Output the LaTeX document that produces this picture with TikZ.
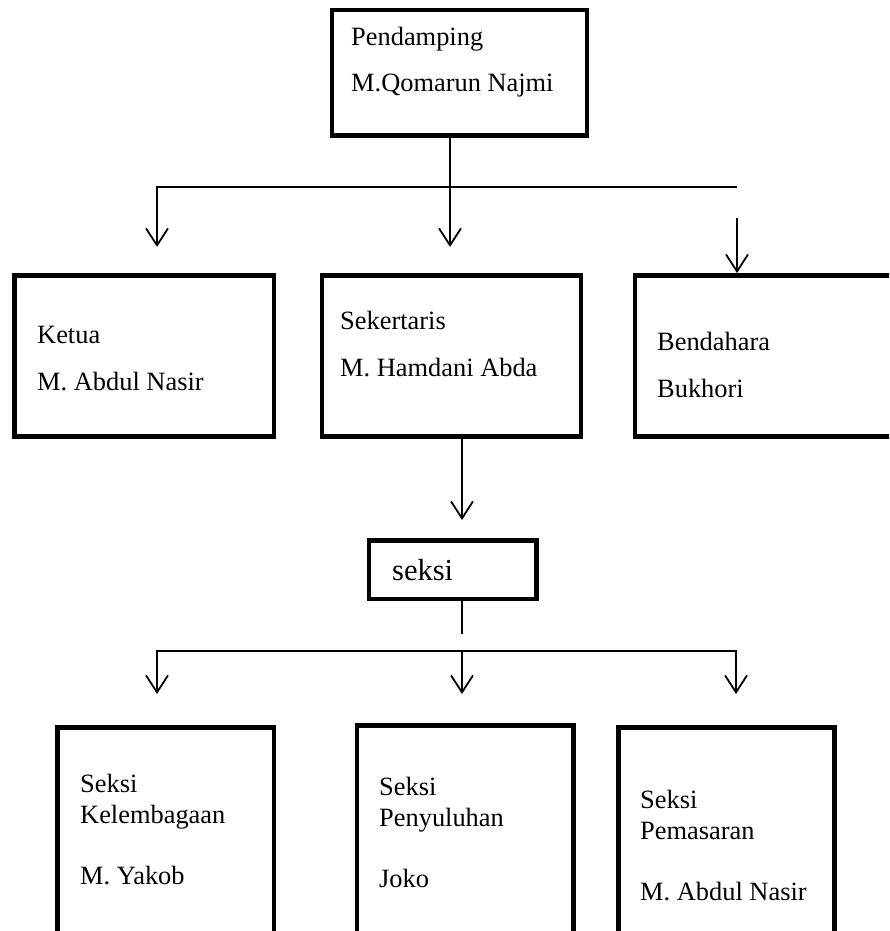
\documentclass[tikz,border=0pt]{standalone}
\usepackage{fontspec}
\setmainfont{Liberation Serif}
\usetikzlibrary{arrows.meta}

\begin{document}
\begin{tikzpicture}[
  x=1pt, y=-1pt,
  >={Straight Barb[length=17pt, width=22pt]},
  box/.style={draw, line width=4.8pt, inner sep=0pt},
  txt/.style={anchor=base west, inner sep=0pt, align=left,
              font=\fontsize{26.4}{46.5}\selectfont},
  seksitxt/.style={txt, font=\fontsize{26.4}{30.5}\selectfont},
  link/.style={line width=1.8pt},
  arrow/.style={link, ->},
]
\useasboundingbox (0,0) rectangle (889,931);
\clip (0,0) rectangle (889,931);

% boxes
\node[box, minimum width=255, minimum height=125.5] (pendamping) at (459.5,72.75) {};
\node[box, minimum width=259.5, minimum height=161] (ketua) at (144.25,356) {};
\node[box, minimum width=259, minimum height=161] (sekertaris) at (451.5,356) {};
\node[box, minimum width=270, minimum height=161] (bendahara) at (770,356) {};
\node[box, minimum width=167.5, minimum height=58.5] (seksi) at (452.75,569.75) {};
\node[box, minimum width=216.5, minimum height=232.5] (kelembagaan) at (165.75,843.75) {};
\node[box, minimum width=216.5, minimum height=234.5] (penyuluhan) at (465.25,842.75) {};
\node[box, minimum width=216, minimum height=232.5] (pemasaran) at (726.5,843.75) {};

% texts (placed at the baseline of their last line)
\node[txt] (pendampingText) at (351,92) {Pendamping\\M.Qomarun Najmi};
\node[txt] (ketuaText) at (37,390) {Ketua\\M. Abdul Nasir};
\node[txt] (sekertarisText) at (340,376) {Sekertaris\\M. Hamdani Abda};
\node[txt] (bendaharaText) at (657,397) {Bendahara\\Bukhori};
\node[txt, font=\fontsize{30.5}{36}\selectfont] (seksiText) at (392,580) {seksi};
\node[seksitxt] (kelembagaanText) at (80,884) {Seksi\\Kelembagaan\\[30.5pt]M. Yakob};
\node[seksitxt] (penyuluhanText) at (379,887) {Seksi\\Penyuluhan\\[30.5pt]Joko};
\node[seksitxt] (pemasaranText) at (640,900) {Seksi\\Pemasaran\\[30.5pt]M. Abdul Nasir};

% connectors
\coordinate (leftEnd) at (157,187);
\coordinate (rightEnd) at (737,187);
\coordinate (ketuaTip) at (157,247);
\coordinate (sekTip) at (450,247);
\coordinate (bendStart) at (737,218);
\coordinate (seksiTip) at (462,520);
\coordinate (seksiEnd) at (462,634);
\coordinate (lowLeft) at (157,651);
\coordinate (lowRight) at (736,651);
\coordinate (kelTip) at (157,694);
\coordinate (penTip) at (462,694);
\coordinate (pemTip) at (736,694);

\draw[arrow] (pendamping.south -| sekTip) -- (sekTip);
\draw[arrow] (rightEnd) -- (leftEnd) -- (ketuaTip);
\draw[arrow] (bendStart) -- (bendStart |- bendahara.north);
\draw[arrow] (sekertaris.south -| seksiTip) -- (seksiTip);
\draw[link] (seksi.south -| seksiEnd) -- (seksiEnd);
\draw[link, <->] (kelTip) -- (lowLeft) -- (lowRight) -- (pemTip);
\draw[arrow] (lowLeft -| penTip) -- (penTip);
\end{tikzpicture}
\end{document}
